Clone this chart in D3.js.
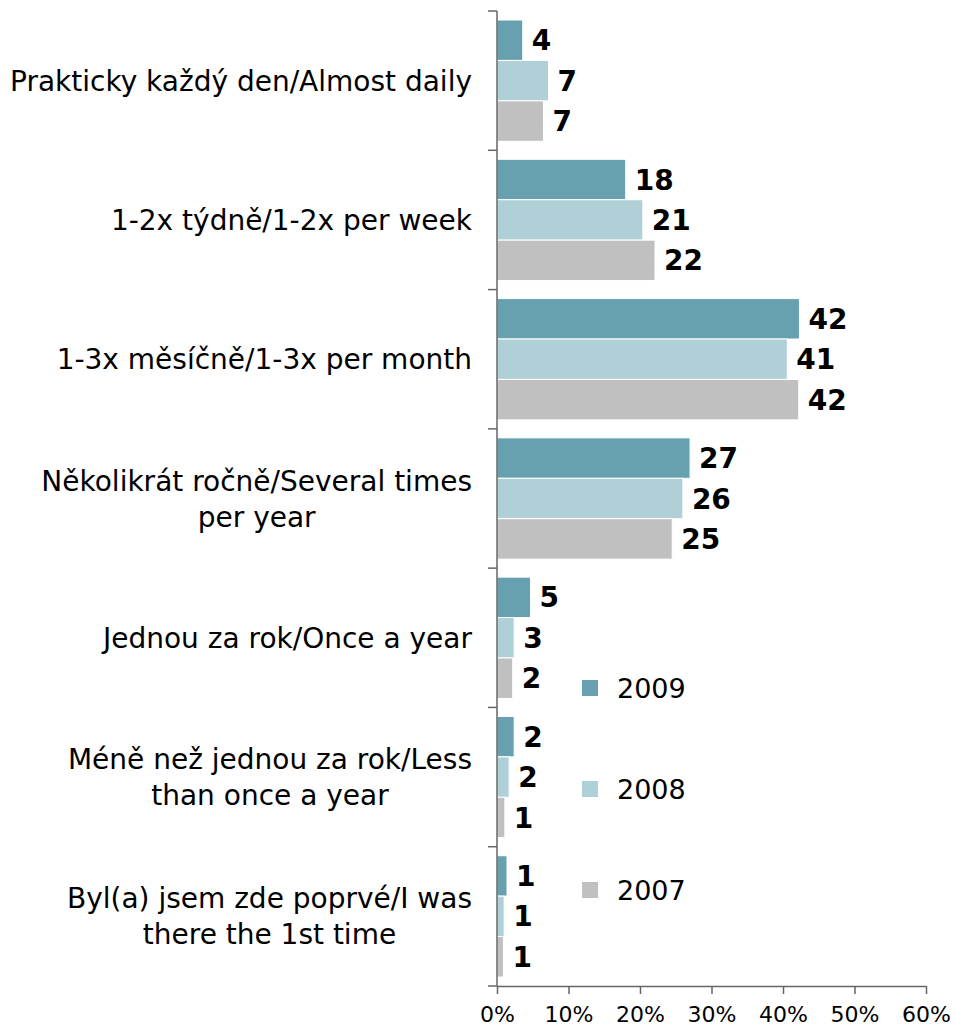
<!DOCTYPE html>
<html>
<head>
<meta charset="utf-8">
<script src="https://cdn.jsdelivr.net/npm/d3@7"></script>
<style>
  body { margin: 0; background: #fff; }
  text { font-family: "DejaVu Sans", Verdana, sans-serif; fill: #000; }
</style>
</head>
<body>
<div id="chart"></div>
<script>
// categories, top to bottom ("\n" = line break as in the original)
const categories = [
  "Prakticky každý den/Almost daily",
  "1-2x týdně/1-2x per week",
  "1-3x měsíčně/1-3x per month",
  "Několikrát ročně/Several times\nper year",
  "Jednou za rok/Once a year",
  "Méně než jednou za rok/Less\nthan once a year",
  "Byl(a) jsem zde poprvé/I was\nthere the 1st time"
];
const seriesNames = ["2009", "2008", "2007"];
const seriesColors = ["#67a0ae", "#b0d0d8", "#c0c0c0"];

// bar lengths (%)
const values2009 = [3.6, 18.0, 42.3, 27.0, 4.7, 2.4, 1.4];
const values2008 = [7.2, 20.4, 40.6, 26.0, 2.4, 1.7, 1.0];
const values2007 = [6.5, 22.1, 42.2, 24.5, 2.2, 1.1, 0.9];
// printed value labels
const labels2009 = [4, 18, 42, 27, 5, 2, 1];
const labels2008 = [7, 21, 41, 26, 3, 2, 1];
const labels2007 = [7, 22, 42, 25, 2, 1, 1];

const xTicks = [0, 10, 20, 30, 40, 50, 60];

document.addEventListener("DOMContentLoaded", drawChart);

function drawChart() {
  const width = 954, height = 1028;
  const left = 497, right = 926, top = 11, bottom = 986;

  const svg = d3.select("#chart").append("svg")
    .attr("width", width)
    .attr("height", height);

  const x = d3.scaleLinear().domain([0, 60]).range([left, right]);
  const y0 = d3.scaleBand().domain(d3.range(categories.length)).range([top, bottom]).padding(0);
  const inner = 9;
  const y1 = d3.scaleBand().domain(d3.range(3)).range([inner, y0.bandwidth() - inner]).padding(0);

  const allValues = [values2009, values2008, values2007];
  const allLabels = [labels2009, labels2008, labels2007];

  const rows = [];
  categories.forEach((c, i) => {
    seriesNames.forEach((s, j) => {
      rows.push({cat: i, ser: j, v: allValues[j][i], lab: allLabels[j][i]});
    });
  });

  // bars
  svg.append("g").selectAll("rect")
    .data(rows)
    .enter().append("rect")
    .attr("x", x(0))
    .attr("y", d => y0(d.cat) + y1(d.ser))
    .attr("width", d => x(d.v) - x(0))
    .attr("height", y1.bandwidth())
    .attr("fill", d => seriesColors[d.ser])
    .attr("stroke", "#fff")
    .attr("stroke-width", 1);

  // value labels
  svg.append("g").selectAll("text")
    .data(rows)
    .enter().append("text")
    .attr("x", d => x(d.v) + 9)
    .attr("y", d => y0(d.cat) + y1(d.ser) + y1.bandwidth() / 2 + 10)
    .style("font-weight", "bold")
    .style("font-size", "28px")
    .text(d => d.lab);

  // category axis (line + ticks at band edges)
  const axisColor = "#666";
  svg.append("line")
    .attr("x1", left).attr("x2", left)
    .attr("y1", top).attr("y2", bottom)
    .attr("stroke", axisColor).attr("stroke-width", 1.5);
  const edges = d3.range(categories.length).map(i => y0(i)).concat([bottom]);
  svg.append("g").selectAll("line")
    .data(edges)
    .enter().append("line")
    .attr("x1", left - 9).attr("x2", left)
    .attr("y1", d => d).attr("y2", d => d)
    .attr("stroke", axisColor).attr("stroke-width", 1.5);

  // category labels: block centred in the band, lines centred on the widest line
  const labelRight = 472, lineH = 36, catFont = 28;
  categories.forEach((c, i) => {
    const lines = c.split("\n");
    const g = svg.append("g");
    const texts = lines.map((l, k) => g.append("text")
      .style("font-size", catFont + "px")
      .attr("text-anchor", "middle")
      .attr("y", y0(i) + y0.bandwidth() / 2 + (k - (lines.length - 1) / 2) * lineH + catFont * 0.36)
      .text(l));
    const maxW = d3.max(texts, t => t.node().getComputedTextLength());
    texts.forEach(t => t.attr("x", labelRight - maxW / 2));
  });

  // value axis
  const xAxis = svg.append("g")
    .attr("transform", `translate(0,${bottom})`)
    .call(d3.axisBottom(x).tickValues(xTicks).tickFormat(d => d + "%").tickSize(8).tickSizeOuter(0));
  xAxis.select(".domain").attr("stroke", axisColor).attr("stroke-width", 1.5);
  xAxis.selectAll(".tick line").attr("stroke", axisColor).attr("stroke-width", 1.5);
  xAxis.selectAll(".tick text")
    .attr("y", 20)
    .style("font-family", "'DejaVu Sans', Verdana, sans-serif")
    .style("font-size", "22px")
    .attr("fill", "#000");

  // legend
  const legend = svg.append("g").attr("transform", "translate(582, 688)");
  const item = legend.selectAll("g")
    .data(seriesNames)
    .enter().append("g")
    .attr("transform", (d, i) => `translate(0, ${i * 101})`);
  item.append("rect")
    .attr("x", 0).attr("y", -8)
    .attr("width", 16).attr("height", 16)
    .attr("fill", (d, i) => seriesColors[i]);
  item.append("text")
    .attr("x", 35).attr("y", 10)
    .style("font-size", "27px")
    .text(d => d);
}
</script>
</body>
</html>
